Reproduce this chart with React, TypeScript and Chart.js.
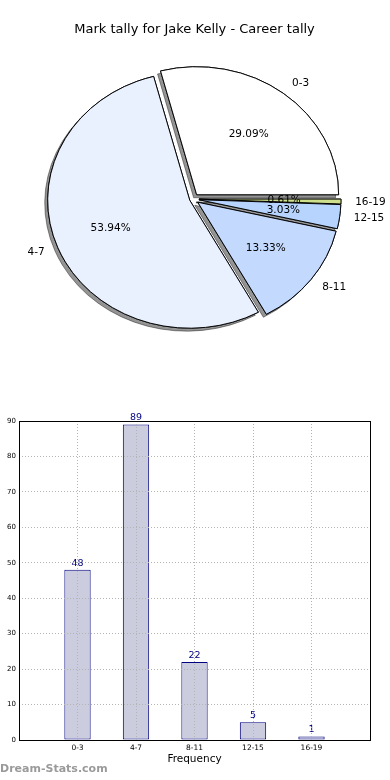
import React, { useEffect, useRef } from 'react';
import { Chart, registerables } from 'chart.js';

Chart.register(...registerables);

const TITLE = 'Mark tally for Jake Kelly - Career tally';
const categories = ['0-3', '4-7', '8-11', '12-15', '16-19'];
const counts = [48, 89, 22, 5, 1];
const sliceColors = ['#ffffff', '#eaf1fe', '#c4d9fe', '#b6d4fe', '#cfe08c'];
const explodeFrac = [0.042, 0.025, 0.042, 0.042, 0.042];
const yMin = 0;
const yMax = 90;
const yStep = 10;
const xAxisTitle = 'Frequency';
const WATERMARK = 'Dream-Stats.com';

const FONT = '"DejaVu Sans", sans-serif';

function PieChart() {
  const ref = useRef<HTMLCanvasElement>(null);
  useEffect(() => {
    if (!ref.current) return;
    const n = categories.length;
    const order = categories.map((_, j) => n - 1 - j); // chart index j -> category index
    const total = counts.reduce((a, b) => a + b, 0);
    const R = 142;
    const ratio = 128 / 142;

    const pieDraw = {
      id: 'pieDraw',
      beforeDatasetsDraw(chart: any) {
        const ctx = chart.ctx as CanvasRenderingContext2D;
        const arcs = chart.getDatasetMeta(0).data;
        const drawAll = () => {
          arcs.forEach((arc: any, j: number) => {
            const i = order[j];
            const mid = (arc.startAngle + arc.endAngle) / 2;
            const off = explodeFrac[i] * arc.outerRadius;
            ctx.save();
            ctx.translate(arc.x, arc.y);
            ctx.scale(1, ratio);
            ctx.translate(-arc.x, -arc.y);
            ctx.translate(Math.cos(mid) * off, Math.sin(mid) * off);
            arc.draw(ctx);
            ctx.restore();
          });
        };
        ctx.save();
        ctx.shadowColor = 'rgba(0,0,0,0.42)';
        ctx.shadowOffsetX = -3;
        ctx.shadowOffsetY = 3;
        ctx.shadowBlur = 0;
        drawAll();
        ctx.restore();
        drawAll();
        return false;
      },
      afterDraw(chart: any) {
        const ctx = chart.ctx as CanvasRenderingContext2D;
        const arcs = chart.getDatasetMeta(0).data;
        ctx.save();
        ctx.fillStyle = '#000';
        ctx.font = `10.5px ${FONT}`;
        ctx.textBaseline = 'middle';
        arcs.forEach((arc: any, j: number) => {
          const i = order[j];
          const mid = (arc.startAngle + arc.endAngle) / 2;
          const r = arc.outerRadius;
          const off = explodeFrac[i] * r;
          const c = Math.cos(mid);
          const s = Math.sin(mid);
          const ax = arc.x + c * off;
          const ay = arc.y + s * off * ratio;
          ctx.textAlign = c > 0 ? 'left' : 'right';
          ctx.fillText(categories[i], ax + 1.1 * r * c, ay + 1.1 * r * s * ratio);
          ctx.textAlign = 'center';
          const pct = ((counts[i] / total) * 100).toFixed(2) + '%';
          ctx.fillText(pct, ax + 0.6 * r * c, ay + 0.6 * r * s * ratio);
        });
        ctx.font = `13px ${FONT}`;
        ctx.textAlign = 'center';
        ctx.fillText(TITLE, 194.5, 30);
        ctx.restore();
      },
    };

    const chart = new Chart(ref.current, {
      type: 'pie',
      data: {
        labels: order.map((i) => categories[i]),
        datasets: [
          {
            data: order.map((i) => counts[i]),
            backgroundColor: order.map((i) => sliceColors[i]),
            borderColor: '#000',
            borderWidth: 1,
          },
        ],
      },
      options: {
        responsive: false,
        animation: false,
        rotation: 90,
        radius: R,
        layout: { padding: { left: 0, right: 4, top: 8, bottom: 0 } },
        plugins: {
          legend: { display: false },
          tooltip: { enabled: false },
          title: { display: false },
        },
        events: [],
      } as any,
      plugins: [pieDraw],
    });
    return () => chart.destroy();
  }, []);
  return <canvas ref={ref} width={390} height={390} style={{ display: 'block' }} />;
}

function BarChart() {
  const ref = useRef<HTMLCanvasElement>(null);
  useEffect(() => {
    if (!ref.current) return;
    const valueLabels = {
      id: 'valueLabels',
      afterDatasetsDraw(chart: any) {
        const ctx = chart.ctx as CanvasRenderingContext2D;
        const bars = chart.getDatasetMeta(0).data;
        ctx.save();
        ctx.fillStyle = '#000080';
        ctx.font = `9.5px ${FONT}`;
        ctx.textAlign = 'center';
        ctx.textBaseline = 'bottom';
        bars.forEach((bar: any, i: number) => {
          ctx.fillText(String(counts[i]), bar.x, bar.y - 2);
        });
        ctx.restore();
      },
      afterDraw(chart: any) {
        const ctx = chart.ctx as CanvasRenderingContext2D;
        const a = chart.chartArea;
        ctx.save();
        ctx.strokeStyle = '#000';
        ctx.lineWidth = 1;
        const l = Math.round(a.left) + 0.5;
        const t = Math.round(a.top) + 0.5;
        const r = Math.round(a.right) + 0.5;
        const b = Math.round(a.bottom) + 0.5;
        ctx.strokeRect(l, t, r - l, b - t);
        ctx.restore();
      },
    };

    const gridCommon = { color: '#b4b4b4', drawTicks: false, z: 1, lineWidth: 1, offset: false };
    const chart = new Chart(ref.current, {
      type: 'bar',
      data: {
        datasets: [
          {
            data: counts.map((v, i) => ({ x: i, y: v })),
            backgroundColor: '#ccccdf',
            borderColor: '#000080',
            borderWidth: 1,
            borderSkipped: false,
            barPercentage: 0.45,
            categoryPercentage: 1,
          },
        ],
      },
      options: {
        responsive: false,
        animation: false,
        events: [],
        layout: { padding: { left: 0, right: 20, top: 31, bottom: 0 } },
        plugins: {
          legend: { display: false },
          tooltip: { enabled: false },
          title: { display: false },
        },
        scales: {
          x: {
            type: 'linear',
            offset: false,
            min: -1,
            max: 5,
            afterFit: (s: any) => {
              s.height = 40;
            },
            ticks: {
              stepSize: 1,
              autoSkip: false,
              maxRotation: 0,
              padding: 4,
              color: '#000',
              font: { family: FONT, size: 7.5 },
              callback: (v: any) => categories[v] ?? '',
            },
            grid: gridCommon,
            border: { display: false, dash: [1, 2] },
            title: {
              display: true,
              text: xAxisTitle,
              color: '#000',
              font: { family: FONT, size: 10.5 },
              padding: { top: 0, bottom: 14 },
            },
          },
          y: {
            type: 'linear',
            min: yMin,
            max: yMax,
            afterFit: (s: any) => {
              s.width = 19;
            },
            ticks: {
              stepSize: yStep,
              padding: 3,
              color: '#000',
              font: { family: FONT, size: 7 },
            },
            grid: gridCommon,
            border: { display: false, dash: [1, 2] },
          },
        },
      } as any,
      plugins: [valueLabels],
    });
    return () => chart.destroy();
  }, []);
  return <canvas ref={ref} width={390} height={390} style={{ display: 'block' }} />;
}

export default function App() {
  return (
    <div
      style={{
        position: 'fixed',
        left: 0,
        top: 0,
        width: 390,
        height: 780,
        background: '#fff',
        overflow: 'hidden',
      }}
    >
      <div style={{ position: 'absolute', left: 0, top: 0, width: 390, height: 390 }}>
        <PieChart />
      </div>
      <div style={{ position: 'absolute', left: 0, top: 390, width: 390, height: 390 }}>
        <BarChart />
      </div>
      <div
        style={{
          position: 'absolute',
          left: 0,
          top: 762,
          fontFamily: FONT,
          fontWeight: 'bold',
          fontSize: 11,
          lineHeight: '14px',
          color: '#9a9a9a',
          whiteSpace: 'nowrap',
        }}
      >
        {WATERMARK}
      </div>
    </div>
  );
}
